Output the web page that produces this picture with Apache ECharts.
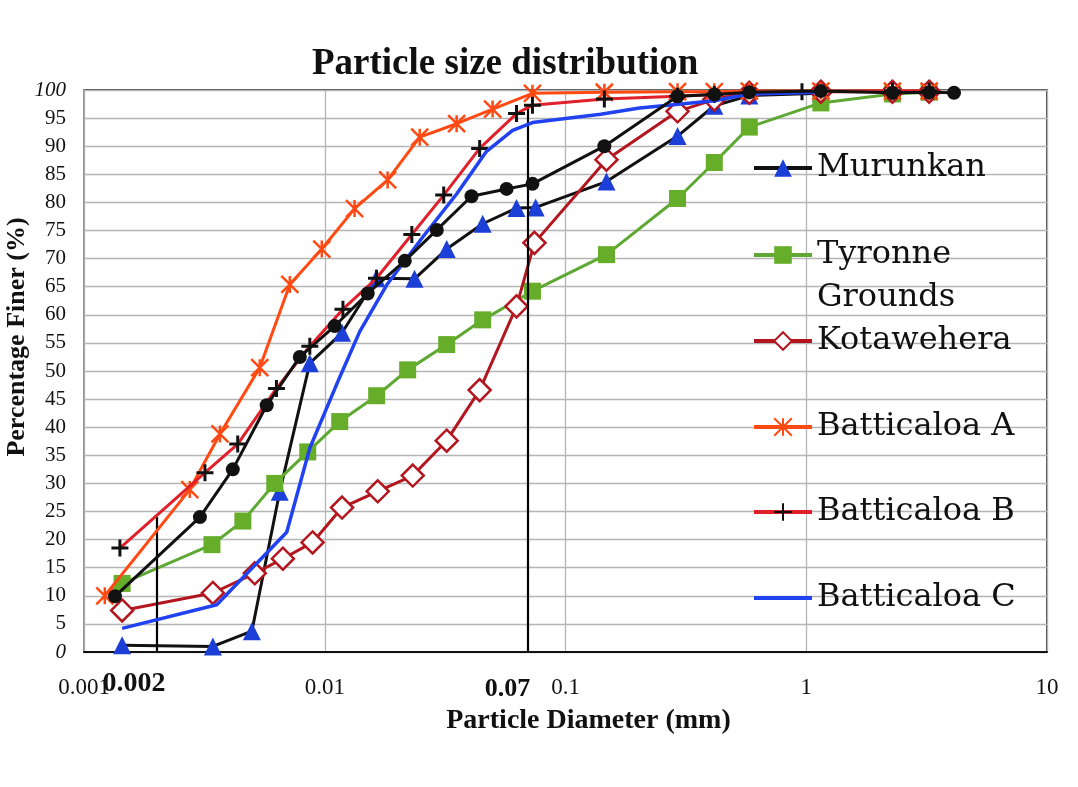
<!DOCTYPE html>
<html>
<head>
<meta charset="utf-8">
<title>Particle size distribution</title>
<script src="https://cdn.jsdelivr.net/npm/echarts@6/dist/echarts.min.js"></script>
<style>
  html, body { margin: 0; padding: 0; background: #ffffff; }
  #chart { width: 1078px; height: 787px; }
</style>
</head>
<body>
<div id="chart"></div>
<script>
// Percentage finer (%) against particle diameter (mm), one [diameter, percent] pair per reading
const murunkan = [
  [0.00144, 1.2], [0.00343, 1.0], [0.00498, 3.7], [0.0065, 28.5], [0.00867, 51.4],
  [0.0118, 56.8], [0.0164, 66.5], [0.0236, 66.4], [0.0321, 71.7], [0.0453, 76.2],
  [0.0626, 79.0], [0.0752, 79.1], [0.148, 83.7], [0.292, 91.8], [0.415, 97.2],
  [0.58, 99.0], [1.15, 99.4]
];
const tyronneGrounds = [
  [0.00144, 12.2], [0.0034, 19.1], [0.00457, 23.3], [0.0062, 30.0], [0.0085, 35.6],
  [0.01154, 41.0], [0.01643, 45.6], [0.0221, 50.2], [0.0321, 54.7], [0.0453, 59.1],
  [0.0729, 64.2], [0.148, 70.7], [0.292, 80.7], [0.415, 87.1], [0.58, 93.4],
  [1.15, 97.7], [2.28, 99.3], [3.24, 99.6]
];
const kotawehera = [
  [0.00144, 7.4], [0.00343, 10.5], [0.00512, 14.0], [0.0067, 16.6], [0.0089, 19.5],
  [0.0118, 25.7], [0.0166, 28.6], [0.0232, 31.4], [0.0321, 37.6], [0.044, 46.6],
  [0.0626, 61.5], [0.0743, 72.8], [0.148, 87.6], [0.292, 96.2], [0.415, 98.3],
  [0.58, 99.5], [1.15, 99.7], [2.28, 99.7], [3.24, 99.7]
];
const batticaloaA = [
  [0.00122, 10.0], [0.00275, 28.9], [0.00367, 38.8], [0.00537, 50.6], [0.00716, 65.4],
  [0.00972, 71.7], [0.0133, 78.9], [0.01825, 84.0], [0.0248, 91.6], [0.0353, 94.0],
  [0.0498, 96.6], [0.0729, 99.4], [0.145, 99.6], [0.292, 99.7], [0.415, 99.7],
  [0.58, 99.8], [1.15, 99.8], [2.28, 99.8], [3.24, 99.8]
];
const batticaloaB = [
  [0.00141, 18.5], [0.00318, 31.9], [0.00435, 37.0], [0.0063, 46.9], [0.00867, 54.4],
  [0.0119, 61.0], [0.0164, 66.5], [0.023, 74.3], [0.0312, 81.3], [0.044, 89.6],
  [0.0626, 95.8], [0.0729, 97.3], [0.145, 98.4], [0.292, 98.9], [0.415, 99.2],
  [0.96, 99.7], [2.28, 99.8], [3.24, 99.8]
];
const batticaloaC = [
  [0.00144, 4.2], [0.00356, 8.4], [0.00695, 21.3], [0.00867, 36.3], [0.01154, 48.9],
  [0.01397, 57.0], [0.01808, 65.3], [0.0255, 73.8], [0.0353, 81.5], [0.047, 89.1],
  [0.0603, 92.8], [0.0729, 94.2], [0.14, 95.7], [0.203, 96.8], [0.415, 98.1],
  [0.58, 99.3], [1.15, 99.6]
];
// Extra grading curve plotted with round markers; it has no legend entry
const extraCurve = [
  [0.001345, 9.9], [0.00303, 24.0], [0.00415, 32.5], [0.00574, 43.9], [0.00788, 52.5],
  [0.011, 58.0], [0.01508, 63.8], [0.0215, 69.6], [0.0292, 75.1], [0.0407, 81.1],
  [0.0569, 82.4], [0.0729, 83.3], [0.145, 90.0], [0.292, 98.9], [0.415, 99.2],
  [0.58, 99.6], [1.15, 99.8], [2.28, 99.5], [3.24, 99.6], [4.11, 99.5]
];

// Clay / fines boundaries marked on the diameter axis, with the percent where each line stops
const boundarySizes = [0.002, 0.07];
const boundaryTops = [24, 97];
const boundaryLabels = ['0.002', '0.07'];

const xTicks = [0.001, 0.01, 0.1, 1, 10];
const yTicks = { min: 0, max: 100, step: 5 };

const legendNames = ['Murunkan', 'Tyronne Grounds', 'Kotawehera', 'Batticaloa A', 'Batticaloa B', 'Batticaloa C'];
const legendRows = [168, 255, 341, 427, 512, 598];

const SERIF = '"Liberation Serif", "Times New Roman", serif';
const LEGEND_FONT = '"DejaVu Serif", serif';

const chart = echarts.init(document.getElementById('chart'), null, { renderer: 'canvas' });

function lineSeries(name, data, color, width, symbol, size, itemStyle, z) {
  return {
    name: name,
    type: 'line',
    data: data,
    symbol: symbol,
    symbolSize: size,
    showSymbol: symbol !== 'none',
    lineStyle: { color: color, width: width },
    itemStyle: itemStyle,
    emphasis: { disabled: true },
    z: z
  };
}

const xMark = 'path://M0,0L10,10M10,0L0,10M5,0L5,10';
const plusMark = 'path://M5,0L5,10M0,5L10,5';

const series = [
  lineSeries('Murunkan', murunkan, '#111111', 3, 'triangle', 18,
    { color: '#1c3fd8', borderColor: '#1c3fd8', borderWidth: 0 }, 2),
  lineSeries('Tyronne Grounds', tyronneGrounds, '#5fa833', 3, 'rect', 17,
    { color: '#66ad2a', borderColor: '#66ad2a', borderWidth: 0 }, 3),
  lineSeries('Kotawehera', kotawehera, '#b3161e', 3, 'diamond', 22,
    { color: '#ffffff', borderColor: '#b3161e', borderWidth: 2.5 }, 4),
  lineSeries('Batticaloa A', batticaloaA, '#ff4a14', 3, xMark, 17,
    { color: '#ff4a14', borderColor: '#ff4a14', borderWidth: 2.5 }, 5),
  lineSeries('Batticaloa B', batticaloaB, '#e0202a', 3, plusMark, 17,
    { color: '#111111', borderColor: '#111111', borderWidth: 3 }, 6),
  lineSeries('Batticaloa C', batticaloaC, '#2142f0', 3.5, 'none', 0,
    { color: '#2142f0' }, 7),
  lineSeries('Curve 7', extraCurve, '#111111', 3, 'circle', 14,
    { color: '#111111', borderColor: '#111111', borderWidth: 0 }, 8)
];

// Vertical boundary lines, drawn from the axis up to the curve
series[4].markLine = {
  silent: true,
  symbol: 'none',
  label: { show: false },
  lineStyle: { color: '#000000', width: 2.2, type: 'solid' },
  data: boundarySizes.map(function (d, i) {
    return [{ coord: [d, 0] }, { coord: [d, boundaryTops[i]] }];
  })
};

// One legend block per entry so each row sits where it belongs on the right of the plot
const LH = 43;
const legends = legendNames.map(function (name, i) {
  const twoLines = name === 'Tyronne Grounds';
  const plainLine = name === 'Batticaloa C';
  const rows = twoLines ? 3 : 1;
  return {
    data: [plainLine ? { name: name, icon: 'rect' } : name],
    left: plainLine ? 754 : 752,
    top: legendRows[i] - rows * LH / 2,
    padding: 0,
    selectedMode: false,
    itemWidth: 58,
    itemHeight: plainLine ? 4 : 22,
    itemGap: 4,
    lineStyle: { width: 4 },
    // the wrapped name keeps its first line level with the marker
    formatter: function (n) { return twoLines ? ' \nTyronne\nGrounds' : n; },
    textStyle: {
      fontFamily: LEGEND_FONT,
      fontSize: 32,
      color: '#111111',
      lineHeight: LH
    }
  };
});

const option = {
  animation: false,
  backgroundColor: '#ffffff',
  title: {
    text: 'Particle size distribution',
    left: 312,
    top: 46,
    padding: 0,
    textStyle: { fontFamily: SERIF, fontWeight: 'bold', fontSize: 37, color: '#111111' }
  },
  legend: legends,
  grid: {
    left: 84,
    right: 31,
    top: 90,
    bottom: 135,
    show: true,
    borderColor: '#111111',
    borderWidth: 1.5,
    containLabel: false,
    outerBoundsMode: 'none'
  },
  xAxis: {
    type: 'log',
    logBase: 10,
    min: xTicks[0],
    max: xTicks[xTicks.length - 1],
    name: 'Particle Diameter (mm)',
    nameLocation: 'middle',
    nameGap: 55,
    nameMoveOverlap: false,
    nameTextStyle: {
      fontFamily: SERIF, fontWeight: 'bold', fontSize: 28, color: '#111111',
      padding: [0, 0, 0, 46]
    },
    axisLine: { show: true, lineStyle: { color: '#111111', width: 2 } },
    axisTick: { show: false },
    minorTick: { show: false },
    splitLine: { show: true, lineStyle: { color: '#b5b5b5', width: 1.3 } },
    axisLabel: {
      margin: 24,
      fontFamily: SERIF,
      fontSize: 23,
      color: '#111111',
      formatter: function (v) { return String(+v.toPrecision(6)); }
    }
  },
  yAxis: {
    type: 'value',
    min: yTicks.min,
    max: yTicks.max,
    interval: yTicks.step,
    name: 'Percentage Finer (%)',
    nameLocation: 'middle',
    nameGap: 54,
    nameRotate: 90,
    nameMoveOverlap: false,
    nameTextStyle: {
      fontFamily: SERIF, fontWeight: 'bold', fontSize: 26, color: '#111111',
      padding: [0, 0, 0, 68]
    },
    axisLine: { show: true, lineStyle: { color: '#a8a8a8', width: 1.5 } },
    axisTick: { show: false },
    splitLine: { show: true, lineStyle: { color: '#b5b5b5', width: 1.3 } },
    axisLabel: {
      margin: 18,
      fontFamily: SERIF,
      fontSize: 21,
      color: '#111111',
      formatter: function (v) {
        return (v === yTicks.max || v === yTicks.min) ? '{it|' + v + '}' : String(v);
      },
      rich: { it: { fontStyle: 'italic', fontFamily: SERIF, fontSize: 21, color: '#111111' } }
    }
  },
  series: series
};

chart.setOption(option);

// Bold size labels under the two boundary lines, placed from the axis scale
const labelShift = [9, 2];
const labelRise = [684, 689];
chart.setOption({
  graphic: boundarySizes.map(function (d, i) {
    const px = chart.convertToPixel({ xAxisIndex: 0 }, d);
    return {
      type: 'text',
      x: px + labelShift[i],
      y: labelRise[i],
      z: 100,
      style: {
        text: boundaryLabels[i],
        fill: '#111111',
        font: 'bold ' + (i === 0 ? 28 : 26) + 'px ' + SERIF,
        align: 'right',
        verticalAlign: 'middle'
      }
    };
  })
});
</script>
</body>
</html>
